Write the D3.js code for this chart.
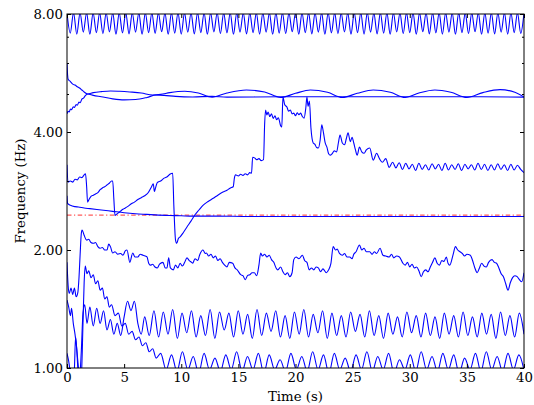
<!DOCTYPE html>
<html><head><meta charset="utf-8">
<script src="https://cdn.jsdelivr.net/npm/d3@7/dist/d3.min.js"></script>
<style>
body{margin:0;background:#fff}
text{font-family:"DejaVu Serif",serif;font-size:13.3px;fill:#000}
</style>
</head><body>
<svg id="chart" width="534" height="405"></svg>
<script>
// ---------------- data ----------------
const xTicks = [0, 5, 10, 15, 20, 25, 30, 35, 40];
const yTicks = [1, 2, 4, 8];
const yMinorTicks = [3, 5, 6, 7];
const xLabel = "Time (s)";
const yLabel = "Frequency (Hz)";
const refLevel = 2.455;

// top oscillation (uniform samples, peaks/troughs)
const topStart = 0, topStep = 40 / 140;
const topValues = [
 8.05,7.15,8.05,7.11,8.05,7.19,8.05,7.10,8.05,7.17,8.05,7.13,8.05,7.20,8.05,7.10,8.05,7.16,8.05,7.12,
 8.05,7.19,8.05,7.10,8.05,7.17,8.05,7.14,8.05,7.21,8.05,7.10,8.05,7.15,8.05,7.11,8.05,7.19,8.05,7.12,
 8.05,7.17,8.05,7.10,8.05,7.20,8.05,7.13,8.05,7.16,8.05,7.10,8.05,7.19,8.05,7.12,8.05,7.17,8.05,7.11,
 8.05,7.19,8.05,7.10,8.05,7.15,8.05,7.13,8.05,7.21,8.05,7.10,8.05,7.17,8.05,7.12,8.05,7.19,8.05,7.10,
 8.05,7.16,8.05,7.13,8.05,7.20,8.05,7.10,8.05,7.17,8.05,7.11,8.05,7.19,8.05,7.12,8.05,7.15,8.05,7.10,
 8.05,7.20,8.05,7.13,8.05,7.17,8.05,7.10,8.05,7.21,8.05,7.12,8.05,7.16,8.05,7.11,8.05,7.19,8.05,7.10,
 8.05,7.17,8.05,7.13,8.05,7.21,8.05,7.10,8.05,7.15,8.05,7.12,8.05,7.19,8.05,7.11,8.05,7.17,8.05,7.14,8.05
];

// pair of lines near 5 Hz
const lineC = [[0,6.0],[0.05,5.6],[0.1,5.45],[0.3,5.38],[0.5,5.3],[0.7,5.27],[0.9,5.22],[1.1,5.18],[1.3,5.12],[1.5,5.06],[1.8,5.0],
 [2.3,5.04],[3.0,5.07],[3.8,5.09],[4.6,5.08],[5.5,5.06],[6.5,5.03],[7.5,4.97],[8.2,4.99],[9.0,5.04],[10.3,5.08],[11.5,5.03],
 [12.7,4.91],[14.0,5.03],[15.7,5.12],[17.3,5.06],[18.7,4.90],[20.0,5.02],[21.3,5.12],[22.8,5.05],[24.1,4.90],[25.4,5.02],
 [26.8,5.12],[28.3,5.05],[29.6,4.90],[30.8,5.03],[32.2,5.12],[33.6,5.05],[35.0,4.90],[36.4,5.04],[37.9,5.13],[39.2,5.05],[40,4.91]];
const lineD = [[0,4.45],[0.1,4.52],[0.2,4.50],[0.3,4.58],[0.4,4.56],[0.55,4.64],[0.65,4.62],[0.8,4.70],[0.9,4.68],[1.05,4.77],
 [1.15,4.75],[1.3,4.85],[1.45,4.88],[1.6,4.95],[1.8,5.0],[2.3,4.96],[3.0,4.92],[4.0,4.86],[5.0,4.83],[6.0,4.84],[7.0,4.90],
 [7.8,4.97],[8.5,4.96],[9.5,4.93],[11,4.915],[12.7,4.93],[14,4.91],[18.7,4.92],[24.1,4.92],[29.6,4.92],[35,4.92],[40,4.91]];

// saw-tooth line
const lineE = [[0,3.30],[0.08,2.98],[0.3,3.0],[0.5,2.98],[0.7,3.03],[0.9,3.02],[1.1,3.07],[1.3,3.06],[1.5,3.11],[1.62,3.13],
 [1.72,2.9],[1.8,2.65],[1.95,2.7],[2.1,2.74],[2.3,2.76],[2.5,2.78],[2.7,2.80],[2.9,2.85],[3.1,2.88],[3.3,2.9],[3.5,2.93],
 [3.7,2.96],[3.9,3.0],[4.0,3.0],[4.1,2.7],[4.2,2.45],[4.35,2.47],[4.6,2.5],[4.8,2.53],[5.0,2.55],[5.3,2.58],[5.6,2.62],
 [5.9,2.65],[6.2,2.69],[6.5,2.72],[6.8,2.75],[7.1,2.8],[7.4,2.9],[7.55,2.95],[7.65,2.82],[7.75,2.88],[7.9,2.97],[8.2,3.0],
 [8.5,3.05],[8.8,3.08],[9.0,3.12],[9.25,3.14],[9.35,2.6],[9.5,2.12],[9.6,2.08],[9.75,2.14],[9.9,2.16],[10.2,2.22],[10.5,2.29],
 [10.85,2.37],[11.2,2.46],[11.55,2.53],[11.9,2.60],[12.35,2.66],[12.8,2.71],[13.2,2.76],[13.65,2.81],[14.0,2.84],[14.3,2.88],
 [14.55,2.90],[14.65,3.05],[14.75,3.11],[15.0,3.09],[15.2,3.12],[15.4,3.1],[15.6,3.13],[15.8,3.11],[16.0,3.15],[16.15,3.14],
 [16.25,3.45],[16.45,3.43],[16.6,3.40],[16.8,3.42],[17.0,3.38],[17.2,3.40],[17.3,4.2],[17.38,4.55],[17.5,4.42],[17.6,4.5],
 [17.75,4.38],[17.9,4.45],[18.05,4.33],[18.2,4.4],[18.35,4.3],[18.5,4.35],[18.7,4.15],[18.8,4.12],[18.9,4.91],[19.05,4.7],
 [19.25,4.63],[19.4,4.52],[19.55,4.55],[19.7,4.45],[19.85,4.47],[20.0,4.4],[20.15,4.48],[20.3,4.43],[20.45,4.47],[20.6,4.38],
 [20.75,4.34],[20.9,4.6],[21.0,4.91],[21.1,4.65],[21.22,4.8],[21.35,4.1],[21.45,3.85],[21.55,3.75],[21.7,3.72],[21.85,3.65],
 [22.0,3.64],[22.15,3.8],[22.3,4.17],[22.45,3.98],[22.6,3.75],[22.75,3.66],[22.9,3.52],[23.05,3.49],[23.2,3.52],[23.4,3.58],
 [23.6,3.56],[23.75,3.75],[23.9,3.93],[24.1,3.75],[24.3,3.71],[24.45,3.85],[24.6,3.98],[24.8,3.78],[24.95,3.88],[25.1,3.75],
 [25.25,3.6],[25.4,3.49],[25.6,3.66],[25.8,3.56],[26.0,3.53],[26.2,3.6],[26.5,3.64],[26.8,3.39],[27.1,3.53],[27.35,3.42],
 [27.6,3.35],[27.9,3.42],[28.2,3.25]];
const eTailStart = 28.5, eTailStep = 0.2875;
const eTailValues = [3.35,3.24,3.34,3.21,3.33,3.22,3.31,3.19,3.33,3.21,3.30,3.20,3.32,3.22,3.31,3.19,3.33,3.20,3.30,3.21,
 3.32,3.19,3.31,3.22,3.30,3.20,3.33,3.21,3.31,3.19,3.30,3.20,3.32,3.21,3.30,3.19,3.31,3.20,3.29,3.21,3.15];

// slowly decaying line lying on the reference
const lineF = [[0,2.75],[0.05,2.63],[0.3,2.6],[0.7,2.58],[1,2.575],[1.5,2.56],[2,2.55],[3,2.53],[4,2.51],[5,2.49],[6,2.475],
 [7,2.465],[8,2.455],[9,2.45],[10,2.445],[11,2.44],[13,2.44],[16,2.435],[20,2.435],[25,2.435],[30,2.435],[35,2.435],[40,2.435]];

// irregular line near 2 Hz
const lineA = [[0,1.86],[0.1,1.62],[0.2,1.55],[0.35,1.6],[0.5,1.54],[0.65,1.6],[0.8,1.52],[0.95,1.56],[1.05,1.7],[1.15,1.95],
 [1.25,2.2],[1.32,2.25],[1.5,2.18],[1.72,2.12],[1.9,2.13],[2.1,2.09],[2.3,2.08],[2.5,2.09],[2.7,2.04],[2.9,2.02],[3.1,2.03],
 [3.3,2.0],[3.5,2.0],[3.65,2.07],[3.8,2.04],[4.0,1.965],[4.2,1.98],[4.45,1.95],[4.7,1.96],[4.9,1.94],[5.1,1.99],[5.25,2.0],
 [5.5,1.86],[5.75,1.965],[5.95,1.92],[6.2,1.92],[6.4,1.95],[6.65,1.94],[6.85,1.93],[7.0,1.92],[7.15,1.85],[7.3,1.83],[7.5,1.84],
 [7.7,1.81],[7.9,1.80],[8.1,1.84],[8.4,1.86],[8.6,1.80],[8.75,1.80],[8.9,1.91],[9.05,1.80],[9.3,1.78],[9.5,1.83],[9.7,1.80],
 [9.9,1.85],[10.1,1.82],[10.3,1.86],[10.5,1.91],[10.7,1.88],[10.9,1.86],[11.0,1.85],[11.2,1.9],[11.45,1.88],[11.6,1.94],
 [11.9,2.0],[12.1,1.96],[12.2,1.965],[12.4,1.93],[12.6,1.95],[12.8,1.91],[13.0,1.93],[13.2,1.88],[13.4,1.90],[13.6,1.86],
 [13.8,1.83],[14.0,1.81],[14.2,1.86],[14.5,1.85],[14.7,1.80],[14.9,1.78],[15.2,1.73],[15.4,1.72],[15.6,1.68],[15.8,1.72],
 [16.0,1.73],[16.2,1.75],[16.4,1.75],[16.6,1.72],[16.8,1.83],[16.95,1.965],[17.1,1.93],[17.3,1.95],[17.5,1.92],[17.7,1.94],
 [17.9,1.89],[18.1,1.86],[18.3,1.8],[18.45,1.78],[18.7,1.81],[18.9,1.76],[19.1,1.73],[19.3,1.75],[19.5,1.71],[19.7,1.75],
 [19.85,1.89],[20.05,1.92],[20.3,1.90],[20.6,1.94],[20.8,1.88],[21.0,1.86],[21.2,1.78],[21.4,1.80],[21.6,1.78],[21.8,1.81],
 [22.0,1.80],[22.2,1.76],[22.4,1.79],[22.7,1.75],[22.9,1.78],[23.1,1.85],[23.3,2.04],[23.5,2.0],[23.65,2.01],[23.85,1.96],
 [24.1,1.94],[24.3,1.96],[24.5,1.92],[24.75,1.92],[24.95,1.9],[25.1,1.95],[25.3,1.98],[25.6,2.06],[25.8,2.0],[26.0,2.02],
 [26.2,1.98],[26.5,1.98],[26.7,1.95],[26.9,1.98],[27.1,1.96],[27.4,2.02],[27.65,1.94],[27.9,1.93],[28.2,1.92],[28.4,1.95],
 [28.6,1.91],[28.85,1.93],[29.1,1.92],[29.4,1.85],[29.6,1.83],[29.8,1.86],[30.0,1.81],[30.2,1.84],[30.4,1.80],[30.6,1.81],
 [30.8,1.77],[31.0,1.71],[31.2,1.76],[31.4,1.78],[31.6,1.76],[31.8,1.81],[32.0,1.86],[32.2,1.91],[32.4,1.85],[32.6,1.83],
 [32.8,1.88],[33.0,1.87],[33.2,1.92],[33.35,1.85],[33.5,1.83],[33.8,1.95],[34.0,2.04],[34.2,2.0],[34.4,1.98],[34.6,1.96],
 [34.8,1.93],[35.0,1.95],[35.3,1.94],[35.5,1.88],[35.7,1.80],[35.9,1.75],[36.1,1.8],[36.3,1.85],[36.5,1.82],[36.7,1.81],
 [36.9,1.86],[37.2,1.89],[37.4,1.86],[37.6,1.85],[37.8,1.80],[38.0,1.74],[38.2,1.71],[38.4,1.64],[38.6,1.58],[38.8,1.65],
 [39.0,1.70],[39.2,1.72],[39.4,1.71],[39.6,1.68],[39.8,1.66],[40,1.75]];

// oscillating line near 1.3 Hz
const lineG = [[0,1.09],[0.15,1.04],[0.3,0.97],[0.5,0.92],[0.65,1.0],[0.75,1.2],[0.85,1.12],[0.95,1.0],[1.1,0.95],[1.25,1.1],
 [1.4,1.38],[1.55,1.45],[1.75,1.3],[2.0,1.43],[2.3,1.28],[2.6,1.42],[2.9,1.3],[3.2,1.4],[3.5,1.25],[3.8,1.33],[4.1,1.22],
 [4.4,1.3],[4.7,1.21],[5.0,1.35],[5.3,1.48],[5.6,1.40],[5.9,1.48],[6.2,1.3],[6.5,1.22],[6.8,1.35]];
const gTailStart = 7.2, gTailStep = 0.41;
const gTailValues = [1.21,1.40,1.20,1.39,1.22,1.41,1.19,1.38,1.23,1.40,1.20,1.36,1.21,1.41,1.19,1.39,1.25,1.38,1.20,1.40,
 1.22,1.37,1.19,1.41,1.21,1.38,1.24,1.40,1.20,1.36,1.19,1.39,1.22,1.41,1.20,1.37,1.23,1.40,1.19,1.38,
 1.21,1.36,1.20,1.39,1.24,1.37,1.20,1.40,1.21,1.36,1.19,1.38,1.22,1.35,1.20,1.39,1.23,1.36,1.20,1.38,
 1.21,1.35,1.19,1.38,1.22,1.36,1.20,1.39,1.21,1.35,1.20,1.38,1.22,1.37,1.19,1.39,1.21,1.36,1.20,1.38,1.22];

// bottom line
const lineH = [[0,1.49],[0.15,1.43],[0.3,1.36],[0.4,1.42],[0.55,1.3],[0.7,1.22],[0.85,1.12],[1.0,1.0],[1.1,0.93],[1.25,0.95],
 [1.4,1.3],[1.5,1.65],[1.6,1.82],[1.75,1.74],[1.9,1.77],[2.1,1.70],[2.3,1.73],[2.5,1.64],[2.7,1.67],[2.9,1.58],[3.1,1.6],
 [3.3,1.5],[3.5,1.52],[3.7,1.43],[3.9,1.45],[4.2,1.36],[4.5,1.38],[4.8,1.28],[5.1,1.30],[5.4,1.22],[5.7,1.24],[6.0,1.18],
 [6.3,1.2],[6.6,1.14],[6.9,1.16],[7.2,1.1],[7.5,1.12],[7.8,1.06]];
const hTailStart = 8.2, hTailStep = 0.475;
const hTailValues = [1.09,0.99,1.08,0.98,1.10,0.99,1.07,0.97,1.09,0.99,1.06,0.98,1.08,0.99,1.10,0.98,1.07,0.99,1.09,0.97,
 1.08,0.99,1.05,0.98,1.09,0.99,1.07,0.98,1.10,0.99,1.08,0.97,1.09,0.99,1.06,0.98,1.08,0.99,1.10,0.98,
 1.07,0.99,1.09,0.97,1.05,0.99,1.08,0.98,1.10,0.99,1.07,0.98,1.09,0.99,1.08,0.97,1.06,0.99,1.09,0.98,
 1.10,0.99,1.07,0.98,1.09,0.99,1.08,0.98];

// ---------------- drawing ----------------
const W = 534, H = 405;
const m = {left: 67, right: 10, top: 14, bottom: 37};
const pw = W - m.left - m.right, ph = H - m.top - m.bottom;
const svg = d3.select("#chart");
const g = svg.append("g").attr("transform", `translate(${m.left},${m.top})`);

const x = d3.scaleLinear().domain([0, 40]).range([0, pw]);
const y = d3.scaleLog().base(2).domain([1, 8]).range([ph, 0]);

const uniform = (t0, step, vals) => vals.map((v, i) => [t0 + i * step, v]);

const series = [
  {data: uniform(topStart, topStep, topValues)},
  {data: lineC}, {data: lineD},
  {data: lineE.concat(uniform(eTailStart, eTailStep, eTailValues))},
  {data: lineF},
  {data: lineA},
  {data: lineG.concat(uniform(gTailStart, gTailStep, gTailValues))},
  {data: lineH.concat(uniform(hTailStart, hTailStep, hTailValues))}
];

svg.append("defs").append("clipPath").attr("id", "clip")
  .append("rect").attr("width", pw).attr("height", ph);

const plot = g.append("g").attr("clip-path", "url(#clip)");
const line = d3.line().x(d => x(d[0])).y(d => y(d[1])).curve(d3.curveMonotoneX);

// reference dashed line
plot.append("path")
  .datum([[0, refLevel], [40, refLevel]])
  .attr("d", d3.line().x(d => x(d[0])).y(d => y(d[1])))
  .attr("fill", "none").attr("stroke", "#ff5a5a").attr("stroke-width", 1.1)
  .attr("stroke-dasharray", "4.5,2.5,1.2,2.5");

plot.selectAll("path.series").data(series).enter().append("path")
  .attr("class", "series")
  .attr("d", d => line(d.data))
  .attr("fill", "none").attr("stroke", "#0000ff").attr("stroke-width", 1.1)
  .attr("stroke-linejoin", "round");

// axes (ticks inward, on all four sides)
const fmt = d3.format(".2f");
const styleAxis = sel => {
  sel.select(".domain").remove();
  sel.selectAll(".tick line").attr("stroke", "#000").attr("stroke-width", 1);
  sel.selectAll(".tick text").style("font-family", '"DejaVu Serif", serif').style("font-size", "13.3px").attr("fill", "#000");
};
g.append("g").attr("transform", `translate(0,${ph})`)
  .call(d3.axisBottom(x).tickValues(xTicks).tickFormat(d3.format("d")).tickSize(-4).tickSizeOuter(0).tickPadding(5))
  .call(styleAxis);
g.append("g")
  .call(d3.axisTop(x).tickValues(xTicks).tickFormat("").tickSize(-4).tickSizeOuter(0))
  .call(styleAxis);
g.append("g")
  .call(d3.axisLeft(y).tickValues(yTicks).tickFormat(fmt).tickSize(-4).tickSizeOuter(0).tickPadding(4))
  .call(styleAxis);
g.append("g").attr("transform", `translate(${pw},0)`)
  .call(d3.axisRight(y).tickValues(yTicks).tickFormat("").tickSize(-4).tickSizeOuter(0))
  .call(styleAxis);
g.append("g")
  .call(d3.axisLeft(y).tickValues(yMinorTicks).tickFormat("").tickSize(-2).tickSizeOuter(0))
  .call(styleAxis);
g.append("g").attr("transform", `translate(${pw},0)`)
  .call(d3.axisRight(y).tickValues(yMinorTicks).tickFormat("").tickSize(-2).tickSizeOuter(0))
  .call(styleAxis);

// frame
g.append("rect").attr("width", pw).attr("height", ph)
  .attr("fill", "none").attr("stroke", "#000").attr("stroke-width", 1);

// labels
svg.append("text").attr("x", m.left + pw / 2).attr("y", 401)
  .attr("text-anchor", "middle").text(xLabel);
svg.append("text").attr("transform", `translate(25,${m.top + ph / 2}) rotate(-90)`)
  .attr("text-anchor", "middle").text(yLabel);
</script>
</body></html>
